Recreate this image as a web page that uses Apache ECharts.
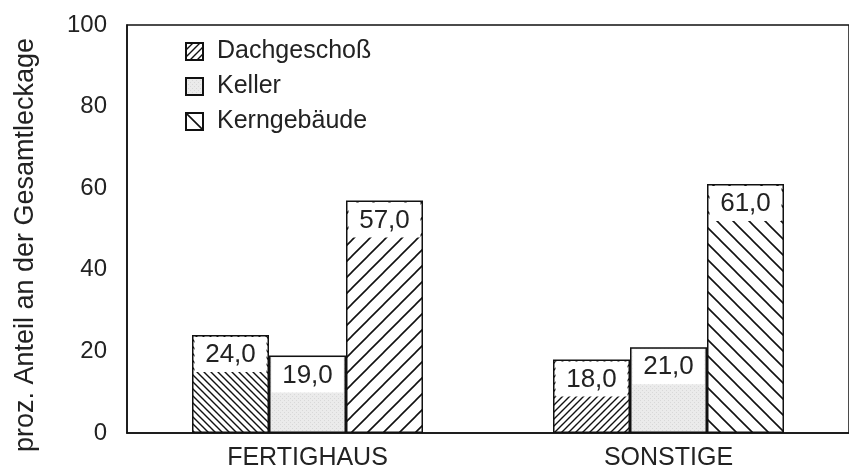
<!DOCTYPE html>
<html>
<head>
<meta charset="utf-8">
<script src="https://cdn.jsdelivr.net/npm/echarts@6/dist/echarts.min.js"></script>
<style>html,body{margin:0;padding:0;background:#fff}#c{width:849px;height:473px}</style>
</head>
<body>
<div id="c"></div>
<script>
const categories = ['FERTIGHAUS', 'SONSTIGE'];
const seriesNames = ['Dachgeschoß', 'Keller', 'Kerngebäude'];
const dachValues = [24.0, 18.0];
const kellerValues = [19.0, 21.0];
const kernValues = [57.0, 61.0];
const yTicks = [0, 20, 40, 60, 80, 100];

function hatch(s, dir, lw) {
  const c = document.createElement('canvas');
  c.width = s; c.height = s;
  const g = c.getContext('2d');
  g.fillStyle = '#fff'; g.fillRect(0, 0, s, s);
  g.strokeStyle = '#111'; g.lineWidth = lw;
  g.beginPath();
  if (dir === '/') {
    g.moveTo(-1, s + 1); g.lineTo(s + 1, -1);
    g.moveTo(-1, 1); g.lineTo(1, -1);
    g.moveTo(s - 1, s + 1); g.lineTo(s + 1, s - 1);
  } else {
    g.moveTo(-1, -1); g.lineTo(s + 1, s + 1);
    g.moveTo(s - 1, -1); g.lineTo(s + 1, 1);
    g.moveTo(-1, s - 1); g.lineTo(1, s + 1);
  }
  g.stroke();
  return { image: c, repeat: 'repeat' };
}
function dots() {
  const c = document.createElement('canvas');
  c.width = 4; c.height = 4;
  const g = c.getContext('2d');
  g.fillStyle = '#ebebeb'; g.fillRect(0, 0, 4, 4);
  g.fillStyle = '#d8d8d8'; g.fillRect(0, 0, 1, 1); g.fillRect(2, 2, 1, 1);
  return { image: c, repeat: 'repeat' };
}

const pDachSlash = hatch(7, '/', 1.4);
const pDachBack = hatch(7, '\\', 1.4);
const pKernSlash = hatch(16, '/', 1.6);
const pKernBack = hatch(16, '\\', 1.6);
const pKeller = dots();

const fontFam = '"Liberation Sans", Arial, sans-serif';
const txt = '#222';
const label = {
  show: true,
  position: 'insideTop',
  distance: 2,
  backgroundColor: '#fff',
  width: 72,
  align: 'center',
  padding: [5, 0, 4, 0],
  fontSize: 26,
  fontFamily: fontFam,
  color: txt,
  formatter: p => p.value.toFixed(1).replace('.', ',')
};
const itemBase = { borderColor: '#111', borderWidth: 1.5 };

const chart = echarts.init(document.getElementById('c'), null, { renderer: 'canvas' });
chart.setOption({
  animation: false,
  backgroundColor: '#fff',
  textStyle: { fontFamily: fontFam },
  grid: { left: 127, top: 25, bottom: 40, right: -4, show: true, borderColor: '#111', borderWidth: 1.5, backgroundColor: 'transparent' },
  legend: {
    orient: 'vertical', left: 180, top: 34, itemWidth: 17, itemHeight: 17, itemGap: 10,
    icon: 'rect', data: seriesNames,
    textStyle: { fontSize: 25, lineHeight: 25, color: txt, fontFamily: fontFam, padding: [0, 0, 0, 9] }
  },
  xAxis: {
    type: 'category', data: categories,
    axisTick: { show: false },
    axisLine: { lineStyle: { color: '#111', width: 1.5 } },
    axisLabel: { fontSize: 25, color: txt, margin: 13 }
  },
  yAxis: {
    type: 'value', min: 0, max: 100, interval: 20,
    splitLine: { show: false }, axisTick: { show: false },
    axisLine: { show: true, lineStyle: { color: '#111', width: 1.5 } },
    axisLabel: { fontSize: 24, color: txt, margin: 20, formatter: v => yTicks.includes(v) ? String(v) : '' },
    name: 'proz. Anteil an der Gesamtleckage', nameLocation: 'middle', nameGap: 88, nameRotate: 90,
    nameTextStyle: { fontSize: 27, color: txt, padding: [0, 32, 0, 0] }
  },
  series: [
    { name: seriesNames[0], type: 'bar', barWidth: 77, barGap: '0%',
      itemStyle: Object.assign({ color: pDachSlash }, itemBase), label,
      data: dachValues.map((v, i) => i === 0 ? { value: v, itemStyle: { color: pDachBack } } : v) },
    { name: seriesNames[1], type: 'bar', barWidth: 77, barGap: '0%',
      itemStyle: Object.assign({ color: pKeller }, itemBase), label,
      data: kellerValues },
    { name: seriesNames[2], type: 'bar', barWidth: 77, barGap: '0%',
      itemStyle: Object.assign({ color: pKernBack }, itemBase), label,
      data: kernValues.map((v, i) => i === 0 ? { value: v, itemStyle: { color: pKernSlash } } : v) }
  ]
});
</script>
</body>
</html>
